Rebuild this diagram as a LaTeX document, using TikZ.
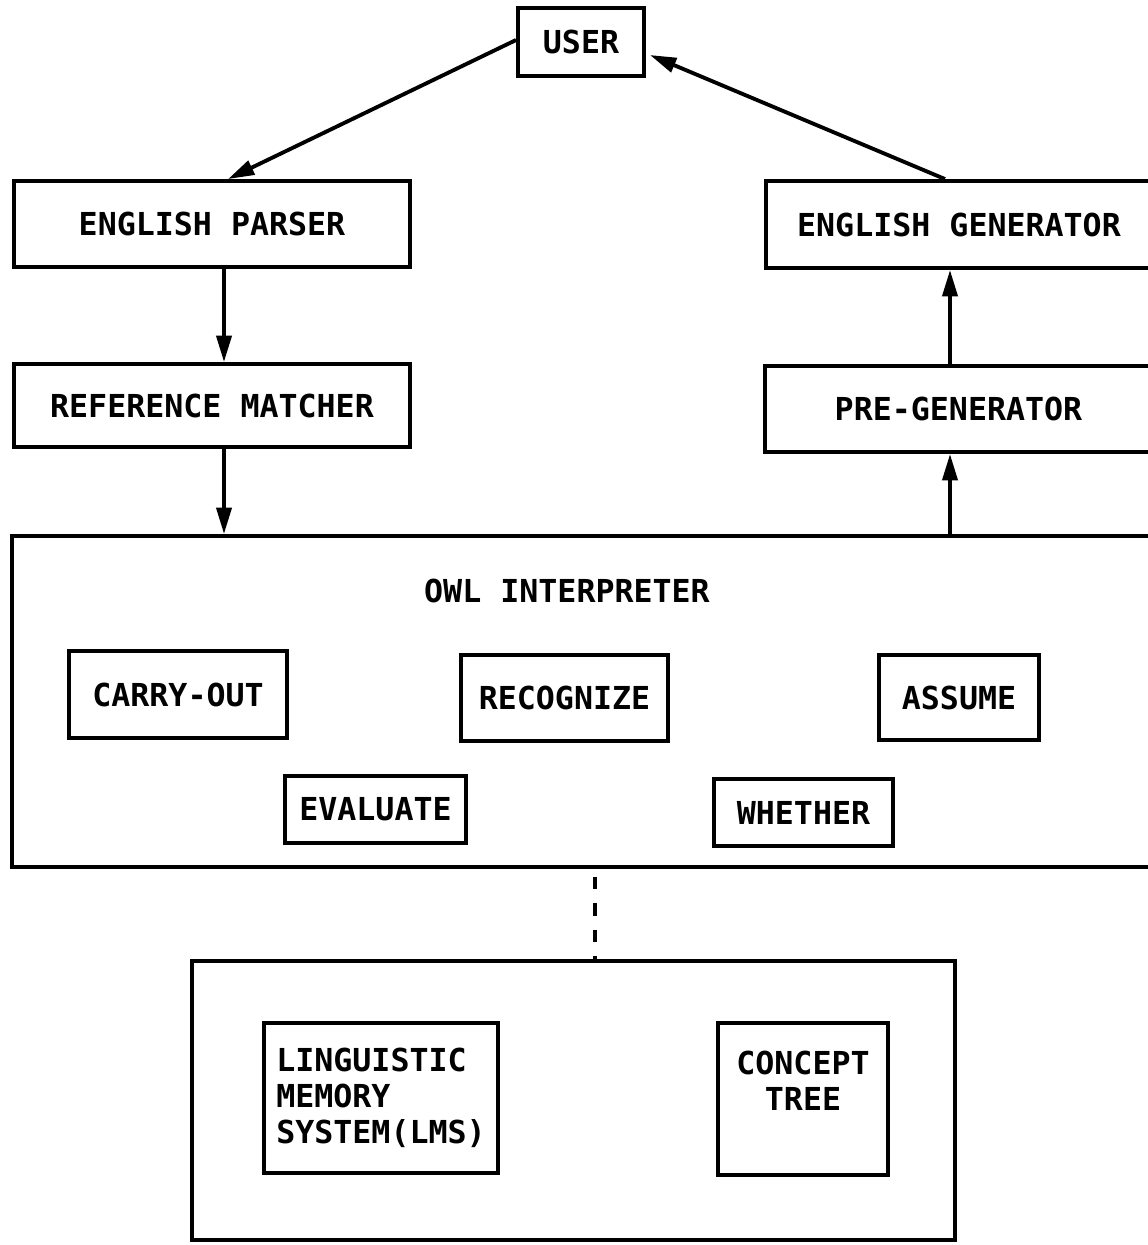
\documentclass[tikz,border=0pt]{standalone}
\usepackage{fontspec}
\setmonofont{DejaVu Sans Mono}
\usetikzlibrary{arrows.meta,calc}
\begin{document}
\begin{tikzpicture}[x=0.02cm,y=-0.02cm,
  txt/.style={font=\ttfamily\bfseries\fontsize{18}{20.4}\selectfont},
  box/.style 2 args={draw, line width=2.2pt, inner sep=0pt, txt,
    minimum width=#1*0.02cm, minimum height=#2*0.02cm},
  lbl/.style={inner sep=0pt, txt},
  arr/.style={line width=2.2pt, -{Triangle[length=15pt,width=8.5pt]}},
  dsh/.style={line width=2.8pt, dash pattern=on 7pt off 8pt}]
\clip (0,0) rectangle (1148,1245);
\fill[white] (0,0) rectangle (1148,1245);
% top boxes
\node[box={126}{68}] (user) at (581,42) {USER};
\node[box={396}{86}] (parser) at (212,224) {ENGLISH PARSER};
\node[box={386}{87}] (gen) at (959,224.5) {ENGLISH GENERATOR};
\node[box={396}{83}] (matcher) at (212,405.5) {REFERENCE MATCHER};
\node[box={387}{86}] (pregen) at (958.5,409) {PRE-GENERATOR};
% OWL interpreter
\node[box={1148}{331}] (owl) at (586,701.5) {};
\node[lbl] (owltitle) at (567,591) {OWL INTERPRETER};
\node[box={218}{87}] (carry) at (178,694.5) {CARRY-OUT};
\node[box={207}{86}] (recog) at (564.5,698) {RECOGNIZE};
\node[box={160}{85}] (assume) at (959,697.5) {ASSUME};
\node[box={181}{67}] (eval) at (375.5,809.5) {EVALUATE};
\node[box={179}{67}] (whether) at (803.5,812.5) {WHETHER};
% memory
\node[box={763}{279}] (mem) at (573.5,1100.5) {};
\node[box={234}{150}, align=left] (lms) at (381,1098) {LINGUISTIC\\MEMORY\\SYSTEM(LMS)};
\node[box={170}{152}, align=center] (tree) at (803,1099) {CONCEPT\\TREE\\~};
% connectors
\coordinate (xa) at (224,0);
\coordinate (xb) at (950,0);
\coordinate (xd) at (595,0);
\draw[arr] ($(user.west)+(0,-2)$) -- (parser.north -| 228,0);
\draw[arr] (gen.north -| 945,0) -- ($(user.east)+(4,13)$);
\draw[arr] (xa |- parser.south) -- (xa |- matcher.north);
\draw[arr] (xa |- matcher.south) -- (xa |- owl.north);
\draw[arr] (xb |- owl.north) -- (xb |- pregen.south);
\draw[arr] (xb |- pregen.north) -- (xb |- gen.south);
\draw[dsh] (xd |- owl.south) ++(0,8) -- (xd |- mem.north);
\end{tikzpicture}
\end{document}
